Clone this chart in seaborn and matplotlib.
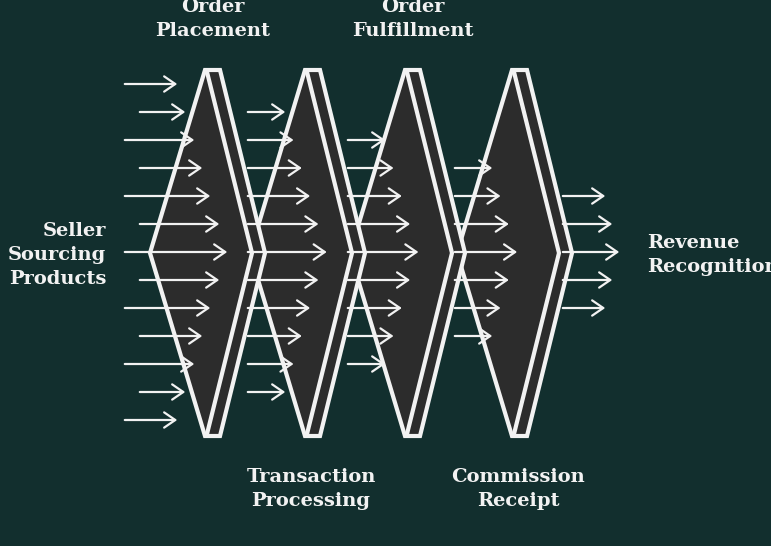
import numpy as np
import matplotlib.pyplot as plt
import seaborn as sns
from matplotlib.patches import Polygon

sns.set_style("white")

# chevron stage positions (left tip x of each stage)
stage_left = [150, 250, 350, 457]
stage_labels = ["Order\nPlacement", "Transaction\nProcessing", "Order\nFulfillment", "Commission\nReceipt"]
label_top = [True, False, True, False]

# input arrows (left side)
in_rows = [84, 112, 140, 168, 196, 224, 252, 280, 308, 336, 364, 392, 420]
in_start = [122, 137, 122, 137, 122, 137, 122, 137, 122, 137, 122, 137, 122]
in_end = [180, 188, 197, 205, 213, 222, 230, 222, 213, 205, 197, 188, 180]

# arrows between stages: rows per gap, start x per gap
gap_rows = [
    [112, 140, 168, 196, 224, 252, 280, 308, 336, 364, 392],
    [140, 168, 196, 224, 252, 280, 308, 336, 364],
    [168, 196, 224, 252, 280, 308, 336],
]
gap_start = [245, 345, 452]
# output arrows (right side)
out_rows = [196, 224, 252, 280, 308]
out_end = [608, 615, 622, 615, 608]

bg = "#122f2e"
fig = plt.figure(figsize=(7.71, 5.46), dpi=100, facecolor=bg)
ax = fig.add_axes([0, 0, 1, 1])
ax.set_facecolor(bg)
ax.set_xlim(0, 771)
ax.set_ylim(546, 0)
ax.axis("off")

def arrow(x0, x1, y):
    ax.annotate("", xy=(x1, y), xytext=(x0, y), zorder=10,
                arrowprops=dict(arrowstyle="->,head_length=0.8,head_width=0.55", color="#f2f2f2", lw=1.6))

# draw chevrons from right to left so earlier ones sit on top
for i in reversed(range(len(stage_left))):
    L = stage_left[i]
    pts = [(L + 55, 70), (L + 70, 70), (L + 115, 253), (L + 70, 436), (L + 55, 436), (L, 253)]
    ax.add_patch(Polygon(pts, closed=True, facecolor="#2c2c2c", edgecolor="#f2f2f2", lw=3, zorder=2 + (4 - i)))
    ax.plot([L + 57, L + 102, L + 57], [72, 253, 434], color="#f2f2f2", lw=3, zorder=2.5 + (4 - i))

for y, x0, x1 in zip(in_rows, in_start, in_end):
    arrow(x0, x1, y)

for rows, x0 in zip(gap_rows, gap_start):
    n = len(rows)
    for k, y in enumerate(rows):
        d = min(k, n - 1 - k)
        arrow(x0, x0 + 43 + 8.3 * d, y)

for y, x1 in zip(out_rows, out_end):
    arrow(560, x1, y)

font = dict(color="#f2f2f2", fontsize=14, fontweight="bold", family="DejaVu Serif", linespacing=1.45)
for L, lab, top in zip(stage_left, stage_labels, label_top):
    if top:
        ax.text(L + 63, 40, lab, ha="center", va="bottom", **font)
    else:
        ax.text(L + 61, 468, lab, ha="center", va="top", **font)
ax.text(106, 255, "Seller\nSourcing\nProducts", ha="right", va="center", **font)
ax.text(647, 255, "Revenue\nRecognition", ha="left", va="center", **font)

fig.savefig("out.png", dpi=100, facecolor=bg)
